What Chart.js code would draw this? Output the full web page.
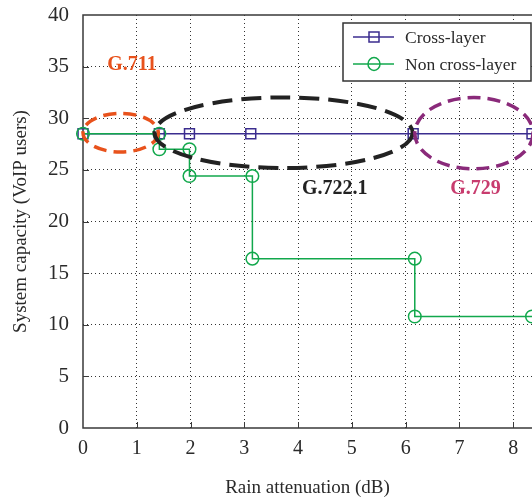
<!DOCTYPE html>
<html>
<head>
<meta charset="utf-8">
<script src="https://cdn.jsdelivr.net/npm/chart.js@4/dist/chart.umd.min.js"></script>
<style>
  html, body { margin: 0; padding: 0; background: #fff; }
  canvas { display: block; }
</style>
</head>
<body>
<canvas id="c" width="532" height="502"></canvas>
<script>
// Rain attenuation (dB) vs. system capacity (VoIP users)
const crossX = [0, 1.42, 1.98, 3.12, 6.14, 8.35];
const crossY = [28.5, 28.5, 28.5, 28.5, 28.5, 28.5];
const nonCrossX = [0, 1.42, 1.42, 1.98, 1.98, 3.15, 3.15, 6.17, 6.17, 8.35];
const nonCrossY = [28.5, 28.5, 27.0, 27.0, 24.4, 24.4, 16.4, 16.4, 10.8, 10.8];
const seriesNames = ['Cross-layer', 'Non cross-layer'];

// Codec regions (data units): centre, half-widths
const codecNames = ['G.711', 'G.722.1', 'G.729'];
const codecCx = [0.70, 3.73, 7.27];
const codecCy = [28.6, 28.6, 28.55];
const codecRx = [0.70, 2.40, 1.10];
const codecRy = [1.87, 3.42, 3.45];
const codecLabelX = [0.91, 4.68, 7.30];
const codecLabelY = [35.2, 23.2, 23.2];
const codecRing = ['#e8521c', '#222222', '#8a2a7a'];
const codecText = ['#e8521c', '#222222', '#c83c6e'];

const xTicks = [0, 1, 2, 3, 4, 5, 6, 7, 8];
const yTicks = [0, 5, 10, 15, 20, 25, 30, 35, 40];

const SERIF = '"Liberation Serif", "Times New Roman", serif';
const FRAME = '#3a3a3a';
const BLUE = '#3b2d8f';
const GREEN = '#12a84c';

const pts = (xs, ys) => xs.map((x, i) => ({ x, y: ys[i] }));

function noScalePadding(s) {
  s.paddingTop = 0;
  s.paddingBottom = 0;
  s.paddingLeft = 0;
  s.paddingRight = 0;
}

const framePlugin = {
  id: 'frame',
  beforeDatasetsDraw(chart) {
    const { ctx, chartArea: a, scales } = chart;
    ctx.save();
    ctx.strokeStyle = FRAME;
    ctx.lineWidth = 1.5;
    ctx.beginPath();
    ctx.moveTo(a.right + 2, a.top);
    ctx.lineTo(a.left, a.top);
    ctx.lineTo(a.left, a.bottom);
    ctx.lineTo(a.right + 2, a.bottom);
    ctx.stroke();
    // small inward ticks
    ctx.lineWidth = 1;
    ctx.beginPath();
    xTicks.slice(1).forEach(v => {
      const px = Math.round(scales.x.getPixelForValue(v)) + 0.5;
      ctx.moveTo(px, a.bottom);
      ctx.lineTo(px, a.bottom - 6);
    });
    yTicks.slice(1, -1).forEach(v => {
      const py = Math.round(scales.y.getPixelForValue(v)) + 0.5;
      ctx.moveTo(a.left, py);
      ctx.lineTo(a.left + 6, py);
    });
    ctx.stroke();
    ctx.restore();
  }
};

const codecPlugin = {
  id: 'codecs',
  afterDatasetsDraw(chart) {
    const { ctx, scales } = chart;
    const sx = scales.x, sy = scales.y;
    ctx.save();
    codecNames.forEach((name, i) => {
      const cx = sx.getPixelForValue(codecCx[i]);
      const cy = sy.getPixelForValue(codecCy[i]);
      const rx = sx.getPixelForValue(codecCx[i] + codecRx[i]) - cx;
      const ry = cy - sy.getPixelForValue(codecCy[i] + codecRy[i]);
      ctx.strokeStyle = codecRing[i];
      ctx.lineWidth = i === 1 ? 4 : 3.5;
      ctx.setLineDash(i === 1 ? [20, 9] : [13, 7]);
      ctx.beginPath();
      ctx.ellipse(cx, cy, rx, ry, 0, 0, Math.PI * 2);
      ctx.stroke();
    });
    ctx.setLineDash([]);
    ctx.font = 'bold 20px ' + SERIF;
    ctx.textAlign = 'center';
    ctx.textBaseline = 'middle';
    codecNames.forEach((name, i) => {
      ctx.fillStyle = codecText[i];
      ctx.fillText(name, sx.getPixelForValue(codecLabelX[i]), sy.getPixelForValue(codecLabelY[i]));
    });
    ctx.restore();
  }
};

const legendPlugin = {
  id: 'boxLegend',
  afterDraw(chart) {
    const { ctx, chartArea: a } = chart;
    const w = 188, h = 58;
    const x0 = a.right - w - 1, y0 = a.top + 8;
    ctx.save();
    ctx.fillStyle = '#fff';
    ctx.fillRect(x0, y0, w, h);
    ctx.strokeStyle = '#333';
    ctx.lineWidth = 1.5;
    ctx.strokeRect(x0, y0, w, h);
    ctx.font = '17.5px ' + SERIF;
    ctx.textBaseline = 'middle';
    chart.data.datasets.forEach((ds, i) => {
      const y = y0 + 14 + i * 27;
      ctx.strokeStyle = ds.borderColor;
      ctx.lineWidth = 1.3;
      ctx.beginPath();
      ctx.moveTo(x0 + 10, y);
      ctx.lineTo(x0 + 51, y);
      ctx.stroke();
      const mx = x0 + 31;
      ctx.lineWidth = 1.5;
      ctx.beginPath();
      if (ds.pointStyle === 'rect') {
        ctx.rect(mx - 5, y - 5, 10, 10);
      } else {
        ctx.ellipse(mx, y, 6, 6.5, 0, 0, Math.PI * 2);
      }
      ctx.stroke();
      ctx.fillStyle = '#2a2a2a';
      ctx.fillText(ds.label, x0 + 62, y + 1);
    });
    ctx.restore();
  }
};

new Chart(document.getElementById('c'), {
  type: 'line',
  data: {
    datasets: [
      {
        label: seriesNames[0],
        data: pts(crossX, crossY),
        borderColor: BLUE,
        borderWidth: 1.3,
        pointStyle: 'rect',
        pointRadius: 7,
        pointBorderWidth: 1.5,
        pointBorderColor: BLUE,
        pointBackgroundColor: 'rgba(0,0,0,0)',
        clip: false,
        order: 2
      },
      {
        label: seriesNames[1],
        data: pts(nonCrossX, nonCrossY),
        borderColor: GREEN,
        borderWidth: 1.5,
        pointStyle: 'circle',
        pointRadius: 6.3,
        pointBorderWidth: 1.5,
        pointBorderColor: GREEN,
        pointBackgroundColor: 'rgba(0,0,0,0)',
        clip: false,
        order: 1
      }
    ]
  },
  options: {
    responsive: false,
    animation: false,
    devicePixelRatio: 1,
    layout: { autoPadding: false, padding: { top: 15, left: 0, right: 0, bottom: 0 } },
    plugins: { legend: { display: false }, tooltip: { enabled: false } },
    elements: { line: { tension: 0 } },
    scales: {
      x: {
        type: 'linear',
        min: 0,
        max: 8.35,
        afterFit(s) { s.height = 74; noScalePadding(s); },
        afterBuildTicks(s) { s.ticks = xTicks.map(v => ({ value: v })); },
        ticks: { includeBounds: false, stepSize: 1, color: '#2a2a2a', padding: 9, font: { family: SERIF, size: 20 }, maxRotation: 0 },
        grid: {
          drawTicks: false,
          lineWidth: 1,
          color: c => (c.tick && c.tick.value > 0 ? '#333' : 'rgba(0,0,0,0)')
        },
        border: { display: false, dash: [1, 3] },
        title: { display: true, text: 'Rain attenuation (dB)', color: '#2a2a2a', font: { family: SERIF, size: 19 }, padding: { top: 20, bottom: 3 } }
      },
      y: {
        type: 'linear',
        min: 0,
        max: 40,
        afterFit(s) { s.width = 83; noScalePadding(s); },
        afterBuildTicks(s) { s.ticks = yTicks.map(v => ({ value: v })); },
        ticks: { stepSize: 5, color: '#2a2a2a', padding: 14, font: { family: SERIF, size: 21 } },
        grid: {
          drawTicks: false,
          lineWidth: 1,
          color: c => (c.tick && c.tick.value > 0 && c.tick.value < 40 ? '#333' : 'rgba(0,0,0,0)')
        },
        border: { display: false, dash: [1, 3] },
        title: { display: true, text: 'System capacity (VoIP users)', color: '#2a2a2a', font: { family: SERIF, size: 19 }, padding: { top: 10, bottom: 4 } }
      }
    }
  },
  plugins: [framePlugin, codecPlugin, legendPlugin]
});
</script>
</body>
</html>
